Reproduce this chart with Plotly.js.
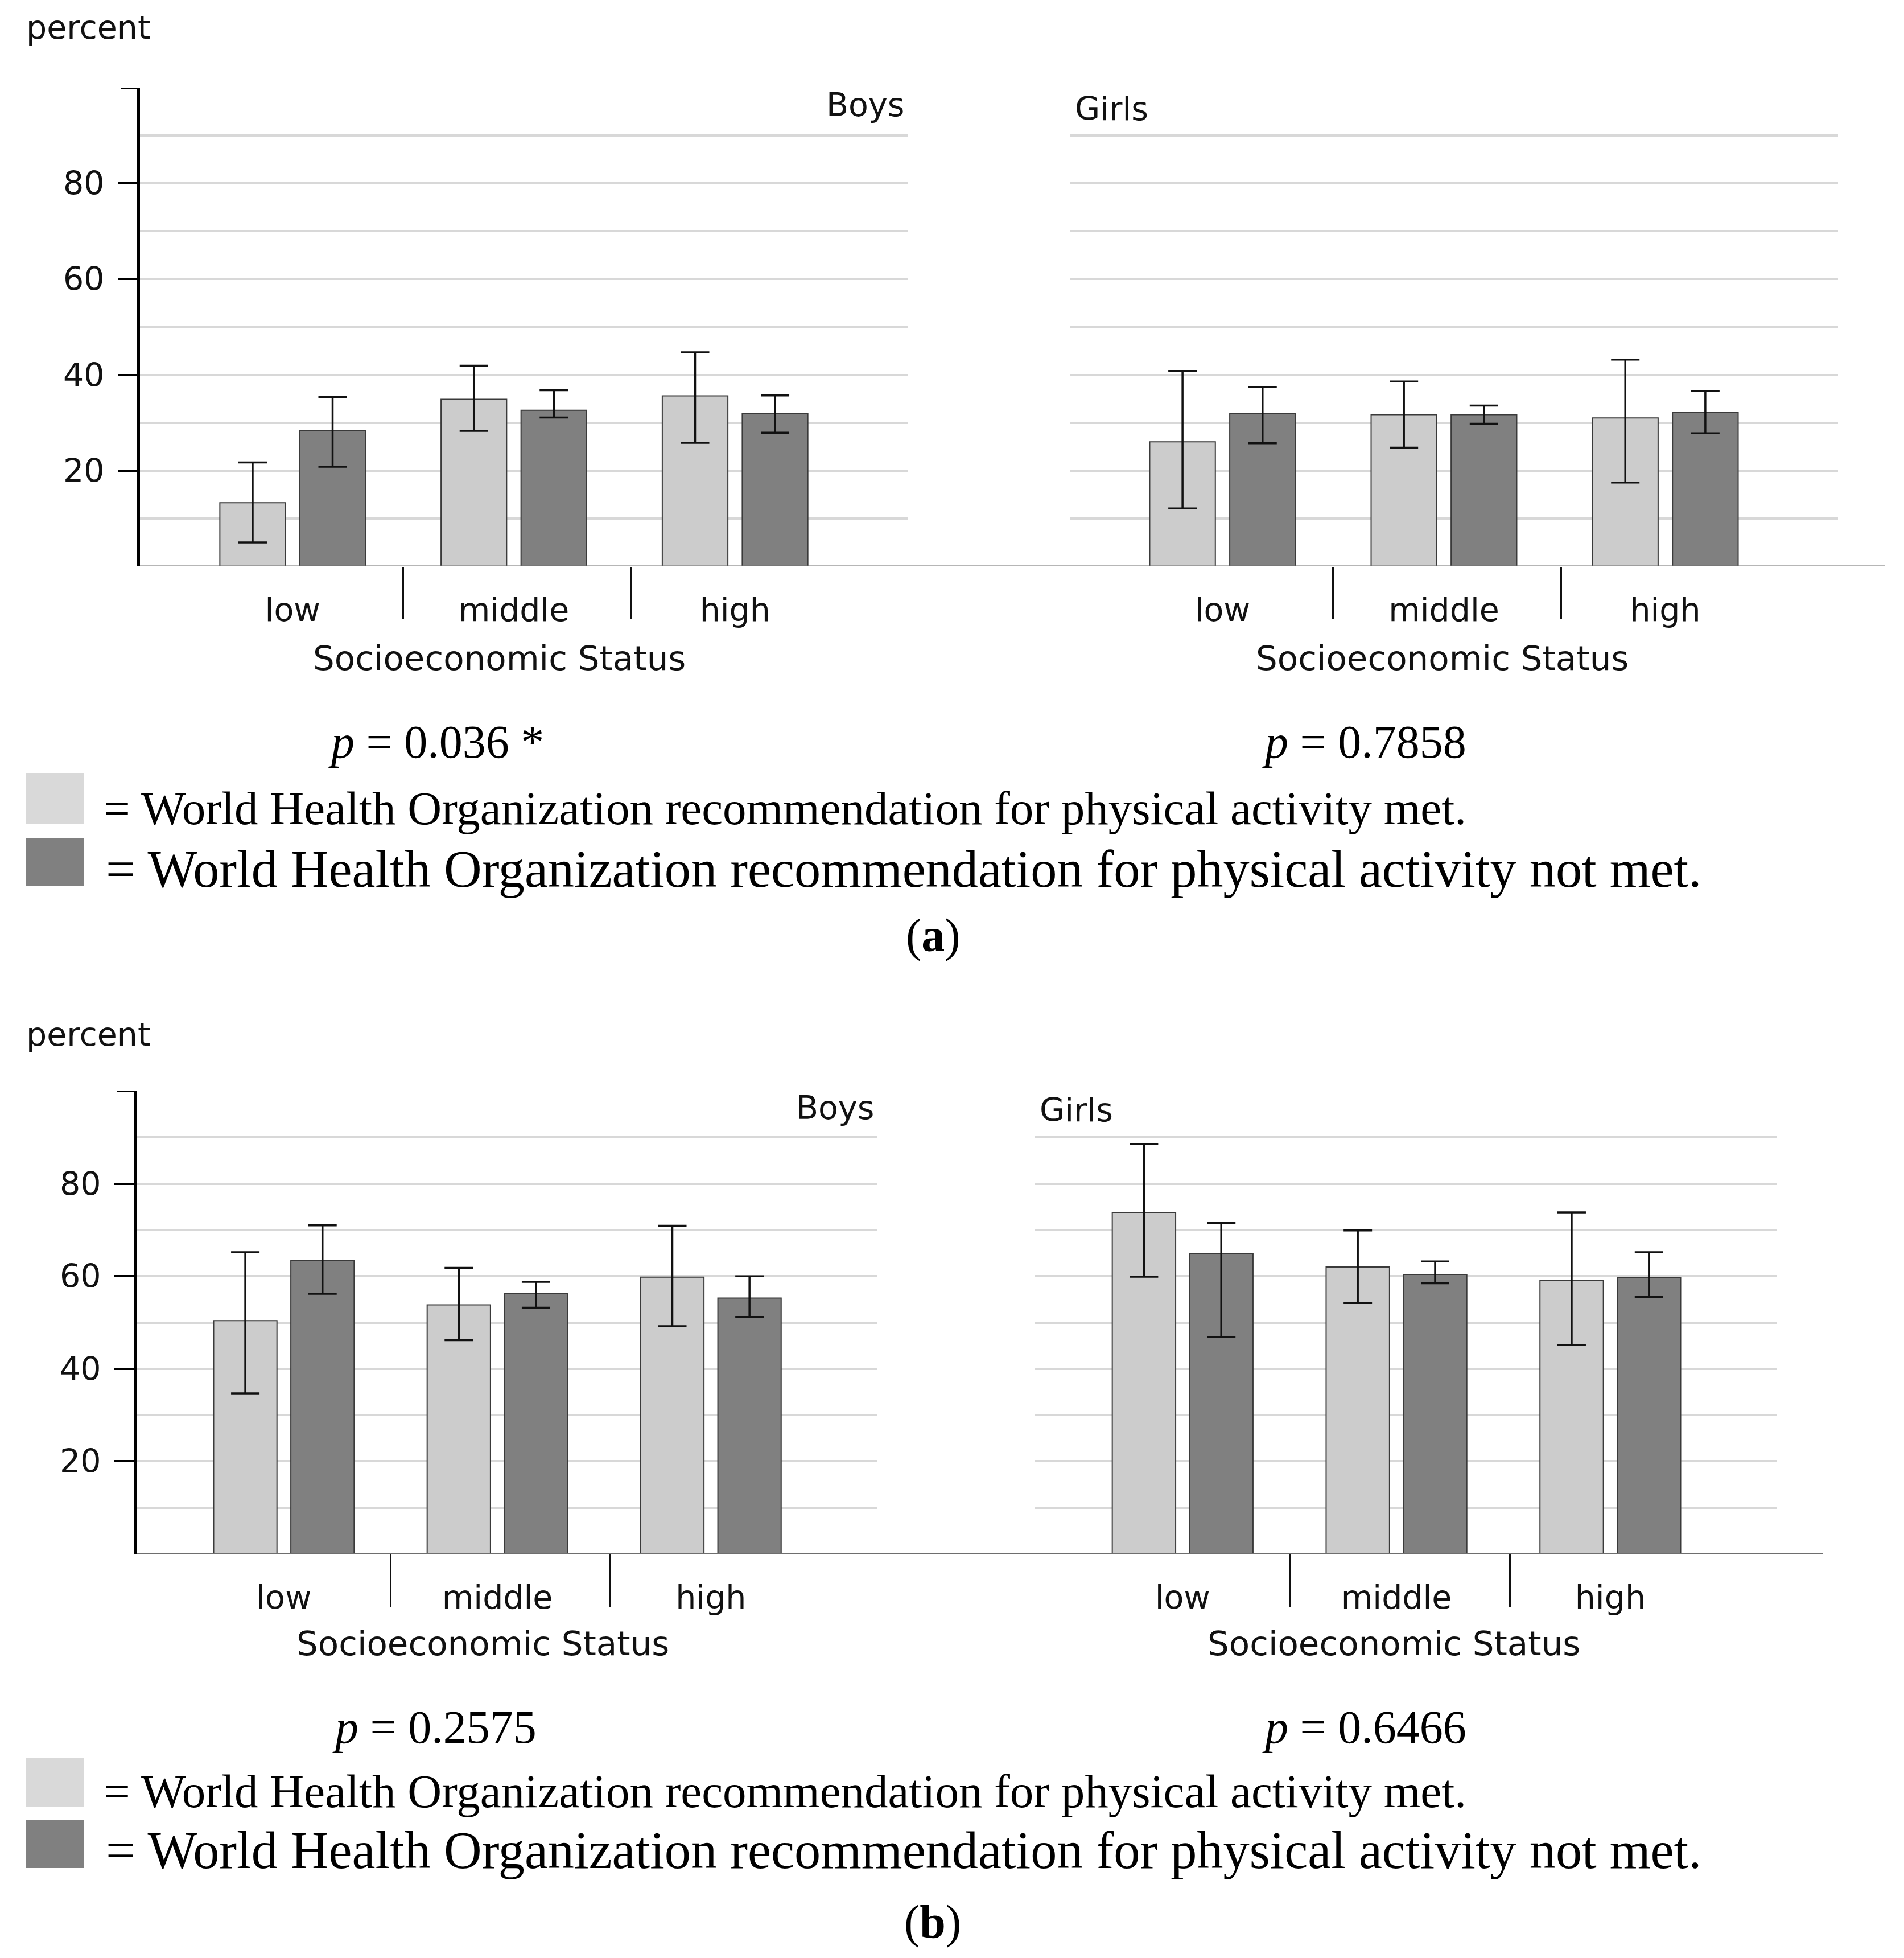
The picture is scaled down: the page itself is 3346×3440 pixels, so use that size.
<!DOCTYPE html>
<html><head><meta charset="utf-8">
<script src="https://cdn.plot.ly/plotly-3.0.1.min.js"></script>
<style>html,body{margin:0;padding:0;background:#fff}#chart{width:3346px;height:3440px}</style>
</head><body><div id="chart"></div>
<script>
// ---------------- data ----------------
const categories = ['low', 'middle', 'high'];
const yTickVals = [20, 40, 60, 80];
const yTickText = ['20', '40', '60', '80'];
const yGridMinor = [10, 30, 50, 70, 90];
const separatorVals = [0.5, 1.53];

// Panel (a)
const aBoysMet      = [13.3, 34.9, 35.6];
const aBoysMetLow   = [5.0, 28.3, 25.8];
const aBoysMetHigh  = [21.7, 41.9, 44.7];
const aBoysNot      = [28.3, 32.6, 32.0];
const aBoysNotLow   = [20.8, 31.1, 27.9];
const aBoysNotHigh  = [35.4, 36.8, 35.7];
const aGirlsMet     = [26.0, 31.7, 31.0];
const aGirlsMetLow  = [12.1, 24.8, 17.5];
const aGirlsMetHigh = [40.8, 38.6, 43.2];
const aGirlsNot     = [31.9, 31.7, 32.2];
const aGirlsNotLow  = [25.7, 29.8, 27.8];
const aGirlsNotHigh = [37.5, 33.6, 36.6];

// Panel (b)
const bBoysMet      = [50.4, 53.8, 59.8];
const bBoysMetLow   = [34.7, 46.2, 49.2];
const bBoysMetHigh  = [65.2, 61.8, 70.9];
const bBoysNot      = [63.4, 56.2, 55.3];
const bBoysNotLow   = [56.2, 53.2, 51.2];
const bBoysNotHigh  = [71.0, 58.8, 60.0];
const bGirlsMet     = [73.8, 62.0, 59.1];
const bGirlsMetLow  = [59.9, 54.2, 45.1];
const bGirlsMetHigh = [88.6, 69.9, 73.8];
const bGirlsNot     = [64.9, 60.4, 59.7];
const bGirlsNotLow  = [46.9, 58.5, 55.5];
const bGirlsNotHigh = [71.5, 63.2, 65.2];

const pValues = ['0.036 *', '0.7858', '0.2575', '0.6466'];
const groupLabels = ['Boys', 'Girls'];
const yLabel = 'percent';
const xTitle = 'Socioeconomic Status';
const legendMet = '= World Health Organization recommendation for physical activity met.';
const legendNot = '= World Health Organization recommendation for physical activity not met.';
const panelLabels = ['a', 'b'];

// ---------------- styling / layout ----------------
const W = 3346, H = 3440;
const px = v => v / W;
const py = v => 1 - v / H;

const LIGHT = '#cccccc', DARK = '#808080';
const SANS = 'DejaVu Sans', SERIF = 'Liberation Serif';
const TXT = '#111111';
const GRID = '#d8d8d8';

const xIdx = categories.map((c, i) => i);

function barTrace(vals, lo, hi, color, xa, ya) {
  return {
    type: 'bar', x: xIdx, y: vals, xaxis: xa, yaxis: ya,
    marker: {color: color, line: {color: '#3a3a3a', width: 2}},
    error_y: {
      type: 'data', symmetric: false,
      array: hi.map((h, i) => h - vals[i]),
      arrayminus: lo.map((l, i) => vals[i] - l),
      color: '#111', thickness: 3.5, width: 25
    },
    showlegend: false, hoverinfo: 'skip'
  };
}

const data = [
  barTrace(aBoysMet, aBoysMetLow, aBoysMetHigh, LIGHT, 'x', 'y'),
  barTrace(aBoysNot, aBoysNotLow, aBoysNotHigh, DARK, 'x', 'y'),
  barTrace(aGirlsMet, aGirlsMetLow, aGirlsMetHigh, LIGHT, 'x2', 'y2'),
  barTrace(aGirlsNot, aGirlsNotLow, aGirlsNotHigh, DARK, 'x2', 'y2'),
  barTrace(bBoysMet, bBoysMetLow, bBoysMetHigh, LIGHT, 'x3', 'y3'),
  barTrace(bBoysNot, bBoysNotLow, bBoysNotHigh, DARK, 'x3', 'y3'),
  barTrace(bGirlsMet, bGirlsMetLow, bGirlsMetHigh, LIGHT, 'x4', 'y4'),
  barTrace(bGirlsNot, bGirlsNotLow, bGirlsNotHigh, DARK, 'x4', 'y4')
];

// pixel geometry
const geo = {
  a: {top: 154, base: 995, boys: [246, 1595], girls: [1880, 3230], lineEnd: 3313, titleX: [877, 2534], titleY: 1156},
  b: {top: 1917, base: 2730, boys: [240, 1542], girls: [1819, 3123], lineEnd: 3204, titleX: [849, 2449], titleY: 2887}
};

const XRANGE = [-0.69, 2.78];

function xAxis(dom, anchor) {
  return {
    domain: [px(dom[0]), px(dom[1])], anchor: anchor, range: XRANGE,
    tickmode: 'array', tickvals: xIdx, ticktext: categories,
    ticks: '', showline: false, showgrid: false, zeroline: false,
    tickfont: {family: SANS, size: 57, color: TXT},
    ticklabelstandoff: 38,
    minor: {tickmode: 'array', tickvals: separatorVals, ticks: 'outside', ticklen: 92,
            tickwidth: 3, tickcolor: '#111', showgrid: false},
    fixedrange: true
  };
}
function yAxis(g, anchor, main) {
  const ax = {
    domain: [py(g.base), py(g.top)], anchor: anchor, range: [0, 100],
    tickmode: 'array', tickvals: yTickVals, ticktext: yTickText,
    showgrid: true, gridcolor: GRID, gridwidth: 4, zeroline: false,
    minor: {tickmode: 'array', tickvals: yGridMinor, showgrid: true, gridcolor: GRID, gridwidth: 4, ticks: ''},
    fixedrange: true
  };
  if (main) {
    Object.assign(ax, {
      showline: true, linecolor: '#000', linewidth: 5,
      ticks: 'outside', ticklen: 34, tickwidth: 4, tickcolor: '#000',
      tickfont: {family: SANS, size: 57, color: TXT}, ticklabelstandoff: 12
    });
  } else {
    Object.assign(ax, {showline: false, ticks: '', showticklabels: false});
  }
  return ax;
}

const shapes = [];
const annotations = [];

function panelDecor(g, yref, pIdx, pY, leg1Y, leg2Y, sq1, sq2, labY, labX, percentY, boysPos, girlsPos) {
  // baseline spanning both halves
  shapes.push({type: 'line', xref: 'paper', yref: yref, x0: px(g.boys[0]), x1: px(g.lineEnd), y0: 0, y1: 0,
               line: {color: '#6e6e6e', width: 3}});
  // top tick on y axis
  shapes.push({type: 'line', xref: 'paper', yref: yref, x0: px(g.boys[0] - 34), x1: px(g.boys[0]), y0: 100, y1: 100,
               line: {color: '#000', width: 4}});
  // legend squares
  shapes.push({type: 'rect', xref: 'paper', yref: 'paper', x0: px(46), x1: px(147), y0: py(sq1[1]), y1: py(sq1[0]),
               fillcolor: '#d9d9d9', line: {width: 0}});
  shapes.push({type: 'rect', xref: 'paper', yref: 'paper', x0: px(46), x1: px(147), y0: py(sq2[1]), y1: py(sq2[0]),
               fillcolor: DARK, line: {width: 0}});

  const sansFont = {family: SANS, size: 57, color: TXT};
  annotations.push({text: yLabel, xref: 'paper', yref: 'paper', x: px(44), y: py(percentY),
                    xanchor: 'left', yanchor: 'middle', showarrow: false, font: sansFont});
  annotations.push({text: groupLabels[0], xref: 'paper', yref: 'paper', x: px(boysPos[0]), y: py(boysPos[1]),
                    xanchor: 'right', yanchor: 'middle', showarrow: false, font: sansFont});
  annotations.push({text: groupLabels[1], xref: 'paper', yref: 'paper', x: px(girlsPos[0]), y: py(girlsPos[1]),
                    xanchor: 'left', yanchor: 'middle', showarrow: false, font: sansFont});
  g.titleX.forEach(tx => {
    annotations.push({text: xTitle, xref: 'paper', yref: 'paper', x: px(tx), y: py(g.titleY),
                      xanchor: 'center', yanchor: 'middle', showarrow: false,
                      font: {family: SANS, size: 59.5, color: TXT}});
  });
  const serif82 = {family: SERIF, size: 82, color: '#000'};
  annotations.push({text: '<i>p</i> = ' + pValues[pIdx], xref: 'paper', yref: 'paper', x: px(pY[0]), y: py(pY[2]),
                    xanchor: 'left', yanchor: 'middle', showarrow: false, font: serif82});
  annotations.push({text: '<i>p</i> = ' + pValues[pIdx + 1], xref: 'paper', yref: 'paper', x: px(pY[1]), y: py(pY[2]),
                    xanchor: 'left', yanchor: 'middle', showarrow: false, font: serif82});
  annotations.push({text: legendMet, xref: 'paper', yref: 'paper', x: px(180), y: py(leg1Y),
                    xanchor: 'left', yanchor: 'middle', showarrow: false, font: {family: SERIF, size: 83, color: '#000'}});
  annotations.push({text: legendNot, xref: 'paper', yref: 'paper', x: px(184), y: py(leg2Y),
                    xanchor: 'left', yanchor: 'middle', showarrow: false, font: {family: SERIF, size: 92.3, color: '#000'}});
  annotations.push({text: '(<b>' + panelLabels[pIdx / 2] + '</b>)', xref: 'paper', yref: 'paper', x: px(labX), y: py(labY),
                    xanchor: 'center', yanchor: 'middle', showarrow: false, font: serif82});
}

panelDecor(geo.a, 'y', 0, [575, 2216, 1304], 1420, 1527, [1358, 1448], [1472, 1556], 1643, 1640, 48, [1591, 184], [1887, 191]);
panelDecor(geo.b, 'y3', 2, [582, 2216, 3034], 3147, 3251, [3089, 3175], [3197, 3282], 3376, 1639, 1817, [1538, 1946], [1825, 1950]);

const layout = {
  width: W, height: H,
  margin: {l: 0, r: 0, t: 0, b: 0, pad: 0},
  paper_bgcolor: '#ffffff', plot_bgcolor: 'rgba(0,0,0,0)',
  showlegend: false, barmode: 'group', bargap: 0.277, bargroupgap: 0.18,
  xaxis: xAxis(geo.a.boys, 'y'),
  yaxis: yAxis(geo.a, 'x', true),
  xaxis2: xAxis(geo.a.girls, 'y2'),
  yaxis2: yAxis(geo.a, 'x2', false),
  xaxis3: xAxis(geo.b.boys, 'y3'),
  yaxis3: yAxis(geo.b, 'x3', true),
  xaxis4: xAxis(geo.b.girls, 'y4'),
  yaxis4: yAxis(geo.b, 'x4', false),
  shapes: shapes,
  annotations: annotations
};

Plotly.newPlot('chart', data, layout, {staticPlot: true, displayModeBar: false});
</script>
</body></html>
